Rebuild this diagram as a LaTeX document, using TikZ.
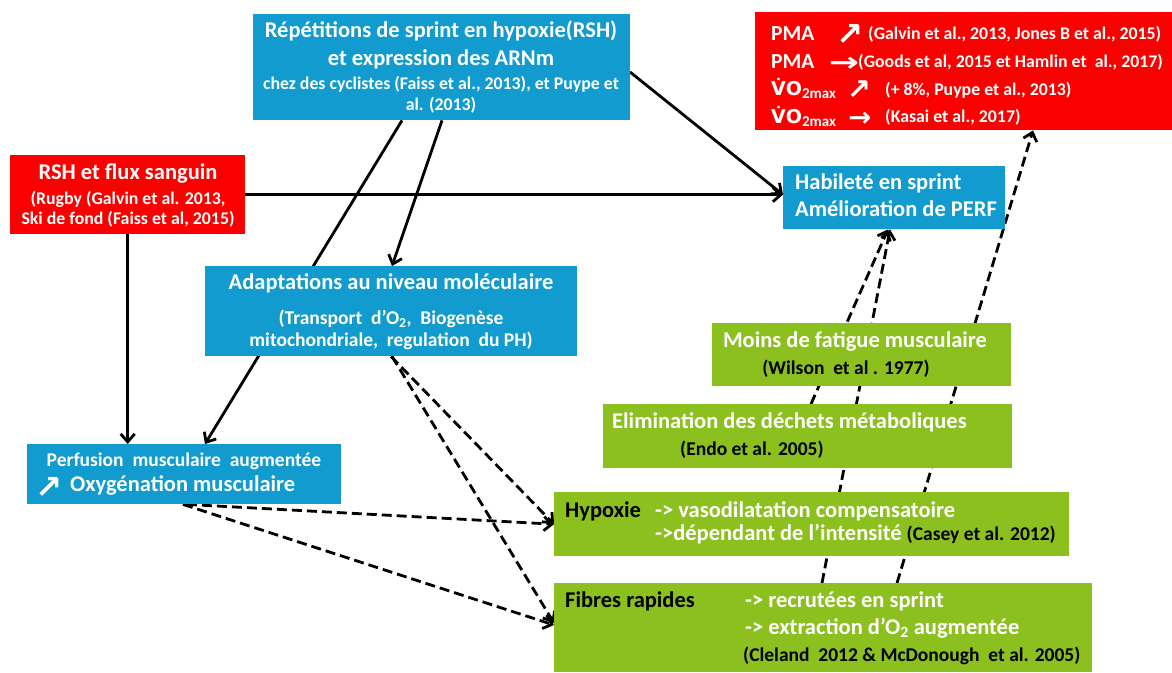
\documentclass[tikz,border=0pt]{standalone}
\usepackage{fontspec}
\setmainfont{Carlito}
\newfontfamily\symfont{DejaVu Sans}
\usetikzlibrary{arrows.meta,calc}
\pgfdeclarelayer{background}
\pgfsetlayers{background,main}
\definecolor{cblue}{RGB}{18,155,206}
\definecolor{cred}{RGB}{250,0,0}
\definecolor{cgreen}{RGB}{140,192,30}
\newcommand\myVdot{{\symfont\fontsize{19}{20}\selectfont V̇O}}
\newcommand\mysubmax{\raisebox{-3pt}{\fontsize{15}{16}\selectfont 2max}}
\tikzset{
  box/.style={rectangle, inner sep=0pt, anchor=north west},
  bluebox/.style={box, fill=cblue},
  redbox/.style={box, fill=cred},
  greenbox/.style={box, fill=cgreen},
  bigtxt/.style={font=\fontsize{22.5}{26}\selectfont\bfseries, text=white, inner sep=0pt, anchor=mid},
  midtxt/.style={font=\fontsize{19.5}{23}\selectfont\bfseries, text=white, inner sep=0pt, anchor=mid},
  smalltxt/.style={font=\fontsize{17.8}{21}\selectfont\bfseries, text=white, inner sep=0pt, anchor=mid},
  lft/.style={anchor=mid west},
  blk/.style={text=black},
  glyph/.style={font=\fontsize{24}{26}\selectfont\symfont\bfseries, text=white, inner sep=0pt, anchor=center},
  conn/.style={line width=2.8pt, -{Straight Barb[length=8pt,width=14pt,line width=2.8pt]}},
  dconn/.style={conn, dash pattern=on 10pt off 5pt},
}
\begin{document}
\begin{tikzpicture}[x=1pt,y=-1pt]
\useasboundingbox (0,0) rectangle (1172,672);

% boxes
\node[bluebox, minimum width=377pt, minimum height=106pt] (rsh) at (253,14) {};
\node[redbox, minimum width=417pt, minimum height=118pt] (pma) at (755,12) {};
\node[redbox, minimum width=235pt, minimum height=79pt] (flux) at (10,155) {};
\node[bluebox, minimum width=222pt, minimum height=63pt] (hab) at (783,166) {};
\node[bluebox, minimum width=372pt, minimum height=90pt] (adapt) at (205,266) {};
\node[bluebox, minimum width=314pt, minimum height=60pt] (perf) at (27,444) {};
\node[greenbox, minimum width=299pt, minimum height=63pt] (g1) at (712,323) {};
\node[greenbox, minimum width=409pt, minimum height=64pt] (g2) at (603,404) {};
\node[greenbox, minimum width=515pt, minimum height=64pt] (g3) at (554,492) {};
\node[greenbox, minimum width=538pt, minimum height=89pt] (g4) at (554,583) {};

% connectors
\begin{pgfonlayer}{background}
\draw[conn] ($(rsh.north west)+(377,58)$) -- ($(hab.west)+(0,-3)$);
\draw[conn] (flux.east) -- (flux.east -| hab.west);
\draw[conn] ($(rsh.south west)+(149,0)$) -- ($(perf.north west)+(178,0)$);
\draw[conn] ($(rsh.south west)+(189,0)$) -- ($(adapt.north west)+(187,0)$);
\draw[conn] (flux.south) -- (flux.south |- perf.north);
\draw[dconn] ($(adapt.south west)+(186,0)$) -- (g3.west);
\draw[dconn] ($(adapt.south west)+(187,0)$) -- ($(g4.north west)+(0,40)$);
\draw[dconn] ($(perf.south west)+(160,0)$) -- (g3.west);
\draw[dconn] ($(perf.south west)+(156,0)$) -- ($(g4.north west)+(0,42)$);
\draw[dconn] ($(g2.north west)+(208,0)$) -- ($(hab.south west)+(105,0)$);
\draw[dconn] ($(g4.north west)+(268,0)$) -- ($(hab.south west)+(107,0)$);
\draw[dconn] ($(g4.north west)+(343,0)$) -- ($(pma.south west)+(278,0)$);
\end{pgfonlayer}

% RSH box text
\node[bigtxt] (r1) at (441,35) {Répétitions de sprint en hypoxie(RSH)};
\node[bigtxt] (r2) at (441,63) {et expression des ARNm};
\node[smalltxt] (r3) at (441,87) {chez des cyclistes (Faiss et al., 2013), et Puype et};
\node[smalltxt] (r4) at (441,108) {al. (2013)};

% PMA box text
\node[font=\fontsize{21.5}{27.7}\selectfont\bfseries, text=white, inner sep=0pt,
      align=left, anchor=west] (pml) at (771,76.5)
  {PMA\\PMA\\\myVdot\mysubmax\\\myVdot\mysubmax};
\node[glyph] (pa1) at (850,35) {\scalebox{1.35}{↗}};
\node[smalltxt, lft] (pc1) at (868,37) {(Galvin et al., 2013, Jones B et al., 2015)};
\node[glyph] (pa2) at (844,64) {\scalebox{1.5}[1.1]{→}};
\node[smalltxt, lft] (pc2) at (858,65) {(Goods et al, 2015 et Hamlin et\ \ al., 2017)};
\node[glyph] (pa3) at (859,90) {\scalebox{1.2}{↗}};
\node[smalltxt, lft] (pc3) at (885,93) {(+ 8\%, Puype et al., 2013)};
\node[glyph] (pa4) at (860,119) {\scalebox{1.15}[1.1]{→}};
\node[smalltxt, lft] (pc4) at (885,120) {(Kasai et al., 2017)};

% flux box text
\node[bigtxt] (f1) at (128,177) {RSH et flux sanguin};
\node[smalltxt] (f2) at (128,202) {(Rugby (Galvin et al. 2013,};
\node[smalltxt] (f3) at (128,222) {Ski de fond (Faiss et al, 2015)};

% habilete
\node[bigtxt, lft] (h1) at (795,187) {Habileté en sprint};
\node[bigtxt, lft] (h2) at (795,214) {Amélioration de PERF};

% adaptations
\node[bigtxt] (a1) at (391,287) {Adaptations au niveau moléculaire};
\node[midtxt] (a2) at (391,322) {(Transport\ \ d’O\textsubscript{2},\ \ Biogenèse};
\node[midtxt] (a3) at (391,344) {mitochondriale,\ \ regulation\ \ du PH)};

% perfusion
\node[midtxt] (p1) at (184,464) {Perfusion\ \ musculaire\ \ augmentée};
\node[glyph] (p2) at (49,488) {\scalebox{1.35}{↗}};
\node[bigtxt, lft] (p3) at (70,489) {Oxygénation musculaire};

% green 1
\node[bigtxt] (g1a) at (855,345) {Moins de fatigue musculaire};
\node[midtxt, blk] (g1b) at (846,372) {(Wilson\ \ et al . 1977)};

% green 2
\node[bigtxt, lft] (g2a) at (612,426) {Elimination des déchets métaboliques};
\node[midtxt, blk, lft] (g2b) at (680,453) {(Endo et al. 2005)};

% green 3
\node[bigtxt, blk, lft] (g3a) at (565,515) {Hypoxie};
\node[bigtxt, lft] (g3b) at (655,515) {-> vasodilatation compensatoire};
\node[bigtxt, lft] (g3c) at (655,538) {->dépendant de l’intensité \textcolor{black}{\fontsize{19.5}{23}\selectfont(Casey et al. 2012)}};

% green 4
\node[bigtxt, blk, lft] (g4a) at (565,605) {Fibres rapides};
\node[bigtxt, lft] (g4b) at (745,605) {-> recrutées en sprint};
\node[bigtxt, lft] (g4c) at (745,632) {-> extraction d’O\textsubscript{2} augmentée};
\node[midtxt, blk, lft] (g4d) at (743,659) {(Cleland\ \ 2012 \& McDonough\ \ et al. 2005)};
\end{tikzpicture}
\end{document}
